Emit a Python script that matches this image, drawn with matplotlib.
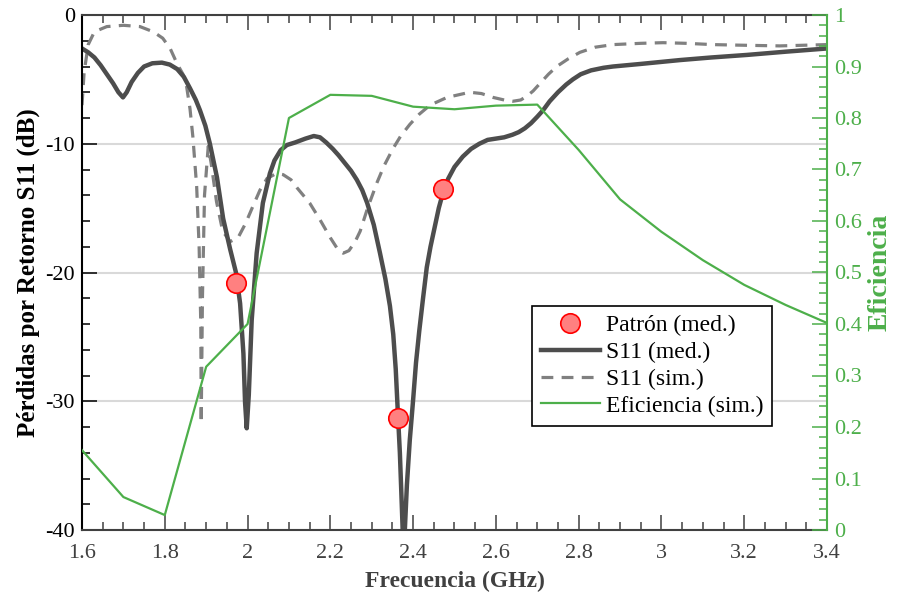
import numpy as np
import matplotlib
matplotlib.use('Agg')
import matplotlib.pyplot as plt
from matplotlib import ticker
from matplotlib.lines import Line2D

plt.rcParams['font.family'] = ['Liberation Serif', 'DejaVu Serif']
plt.rcParams['axes.unicode_minus'] = False

# S11 medido
f_med = [1.600, 1.615, 1.630, 1.645, 1.660, 1.675, 1.688, 1.699, 1.708, 1.720,
         1.735, 1.750, 1.770, 1.793, 1.812, 1.830, 1.846, 1.861, 1.875, 1.885,
         1.898, 1.909, 1.926, 1.941, 1.958, 1.972, 1.982, 1.990, 1.994, 1.998,
         2.003, 2.010, 2.022, 2.037, 2.054, 2.065, 2.080, 2.095, 2.115, 2.140,
         2.160, 2.175, 2.190, 2.206, 2.220, 2.235, 2.250, 2.264, 2.277, 2.289,
         2.305, 2.320, 2.333, 2.344, 2.352, 2.358, 2.363, 2.368, 2.372, 2.377,
         2.380, 2.385, 2.392, 2.400, 2.407, 2.415, 2.424, 2.433, 2.442, 2.452,
         2.462, 2.473, 2.485, 2.500, 2.520, 2.540, 2.560, 2.580, 2.600, 2.620,
         2.640, 2.655, 2.670, 2.685, 2.700, 2.714, 2.730, 2.750, 2.770, 2.786,
         2.805, 2.830, 2.860, 2.883, 2.950, 3.045, 3.120, 3.207, 3.300, 3.400]
s11_med = [-2.6, -2.9, -3.3, -3.9, -4.6, -5.3, -6.0, -6.4, -6.0, -5.2,
           -4.5, -4.0, -3.75, -3.7, -3.85, -4.2, -4.8, -5.7, -6.6, -7.4,
           -8.6, -10.0, -12.6, -15.8, -18.2, -20.0, -22.4, -26.3, -30.1, -32.1,
           -29.5, -23.7, -18.5, -14.6, -12.3, -11.3, -10.5, -10.1, -9.9, -9.6,
           -9.4, -9.5, -9.9, -10.4, -10.9, -11.5, -12.1, -12.8, -13.6, -14.6,
           -16.3, -18.5, -20.5, -22.6, -24.8, -27.5, -30.8, -34.0, -37.5, -42.0,
           -40.0, -36.5, -33.0, -29.9, -27.0, -24.5, -22.0, -19.6, -18.0, -16.5,
           -15.0, -13.7, -12.7, -11.8, -11.0, -10.4, -10.0, -9.7, -9.6, -9.5,
           -9.3, -9.1, -8.8, -8.4, -7.9, -7.4, -6.7, -6.0, -5.4, -5.0,
           -4.6, -4.3, -4.1, -4.0, -3.8, -3.5, -3.3, -3.1, -2.85, -2.6]

# S11 simulado
f_sim = [1.600, 1.605, 1.615, 1.630, 1.660, 1.700, 1.740, 1.772, 1.795, 1.813,
         1.830, 1.844, 1.853, 1.861, 1.868, 1.877, 1.883, 1.887, 1.888, 1.891,
         1.896, 1.905, 1.912, 1.925, 1.940, 1.958, 1.977, 1.995, 2.011, 2.030,
         2.047, 2.070, 2.086, 2.105, 2.119, 2.150, 2.175, 2.200, 2.220, 2.231,
         2.245, 2.260, 2.272, 2.290, 2.313, 2.330, 2.351, 2.370, 2.392, 2.415,
         2.441, 2.482, 2.537, 2.565, 2.593, 2.620, 2.641, 2.660, 2.675, 2.690,
         2.707, 2.727, 2.747, 2.775, 2.803, 2.840, 2.883, 2.950, 3.004, 3.060,
         3.125, 3.200, 3.286, 3.400]
s11_sim = [-7.0, -4.5, -2.3, -1.3, -0.9, -0.8, -0.9, -1.3, -1.8, -2.6,
           -3.8, -4.6, -5.6, -7.3, -9.5, -13.3, -18.0, -24.0, -31.7, -22.0,
           -14.0, -10.2, -11.5, -14.5, -16.8, -17.6, -17.3, -16.2, -15.0, -13.6,
           -12.7, -12.3, -12.4, -12.8, -13.4, -14.6, -15.9, -17.3, -18.3, -18.5,
           -18.3, -17.6, -16.8, -15.0, -13.0, -11.7, -10.4, -9.4, -8.5, -7.7,
           -7.0, -6.4, -6.0, -6.1, -6.4, -6.6, -6.7, -6.6, -6.3, -5.9,
           -5.3, -4.6, -4.0, -3.4, -2.9, -2.5, -2.3, -2.2, -2.15, -2.2,
           -2.3, -2.35, -2.4, -2.3]

# Patrón medido
f_pat = [1.972, 2.363, 2.473]
s11_pat = [-20.8, -31.3, -13.5]

# Eficiencia simulada
f_ef = [1.6, 1.7, 1.8, 1.9, 2.0, 2.1, 2.2, 2.3, 2.4, 2.5, 2.6, 2.7, 2.8, 2.9,
        3.0, 3.1, 3.2, 3.3, 3.4]
ef = [0.155, 0.064, 0.029, 0.317, 0.400, 0.800, 0.845, 0.843, 0.822, 0.817,
      0.824, 0.826, 0.738, 0.642, 0.579, 0.524, 0.476, 0.437, 0.402]

GRIS = '#404040'
VERDE = '#4daf4a'

fig = plt.figure(figsize=(9.01, 5.97), dpi=100)
ax = fig.add_axes([82 / 901, 67 / 597, 745 / 901, 515 / 597])

ax.plot(f_sim, s11_sim, color='#808080', lw=2.3, linestyle=(0, (3.7, 2.6)),
        label='S11 (sim.)')
ax.plot(f_med, s11_med, color='#4d4d4d', lw=3.2, label='S11 (med.)')
ax.plot(f_pat, s11_pat, 'o', ms=14, mfc='#ff8080', mec='red', mew=1.2,
        label='Patrón (med.)', zorder=5)

ax.set_xlim(1.6, 3.4)
ax.set_ylim(-40, 0)
ax.xaxis.set_major_locator(ticker.MultipleLocator(0.2))
ax.xaxis.set_minor_locator(ticker.MultipleLocator(0.05))
ax.yaxis.set_major_locator(ticker.MultipleLocator(10))
ax.yaxis.set_minor_locator(ticker.MultipleLocator(2))
ax.xaxis.set_major_formatter(ticker.FormatStrFormatter('%g'))
ax.yaxis.set_major_formatter(ticker.FormatStrFormatter('%g'))
ax.grid(True, axis='y', which='major', color='#d9d9d9', lw=1.5)
ax.set_axisbelow(True)

ax.tick_params(axis='x', which='both', direction='in', top=True, colors=GRIS,
               labelsize=16, width=1.1, pad=10)
ax.tick_params(axis='x', which='major', length=11)
ax.tick_params(axis='x', which='minor', length=6)
ax.tick_params(axis='y', which='both', direction='in', right=False,
               colors='black', labelsize=16, width=1.1, pad=5)
ax.tick_params(axis='y', which='major', length=11)
ax.tick_params(axis='y', which='minor', length=6)
for s in ['top', 'bottom']:
    ax.spines[s].set_color(GRIS)
    ax.spines[s].set_linewidth(1.5)
ax.spines['left'].set_color('black')
ax.spines['left'].set_linewidth(1.5)
ax.spines['right'].set_visible(False)

ax.set_xlabel('Frecuencia (GHz)', fontsize=17, fontweight='bold', color=GRIS,
              labelpad=6)
ax.set_ylabel('Pérdidas por Retorno S11 (dB)', fontsize=18, fontweight='bold',
              color='black', labelpad=4)

ax2 = ax.twinx()
ax2.plot(f_ef, ef, color=VERDE, lw=1.6, label='Eficiencia (sim.)')
ax2.set_ylim(0, 1)
ax2.yaxis.set_major_locator(ticker.MultipleLocator(0.1))
ax2.yaxis.set_minor_locator(ticker.MultipleLocator(0.02))
ax2.yaxis.set_major_formatter(ticker.FormatStrFormatter('%g'))
ax2.tick_params(axis='y', which='both', direction='in', colors=VERDE,
                labelsize=16, width=1.1, pad=5)
ax2.tick_params(axis='y', which='major', length=11)
ax2.tick_params(axis='y', which='minor', length=6)
for s in ['top', 'bottom', 'left']:
    ax2.spines[s].set_visible(False)
ax2.spines['right'].set_color(VERDE)
ax2.spines['right'].set_linewidth(1.5)
ax2.set_ylabel('Eficiencia', fontsize=20, fontweight='bold', color=VERDE,
               labelpad=4)

handles = [
    Line2D([], [], marker='o', ls='none', ms=14, mfc='#ff8080', mec='red', mew=1.2),
    Line2D([], [], color='#4d4d4d', lw=3.2),
    Line2D([], [], color='#808080', lw=2.3, linestyle=(0, (3.7, 2.6))),
    Line2D([], [], color=VERDE, lw=1.6),
]
labels = ['Patrón (med.)', 'S11 (med.)', 'S11 (sim.)', 'Eficiencia (sim.)']
leg = ax2.legend(handles, labels, loc='upper left', bbox_to_anchor=(0.604, 0.435),
                 borderaxespad=0, fontsize=17, handlelength=2.5, labelspacing=0.22,
                 borderpad=0.38, handletextpad=0.25, fancybox=False, framealpha=1)
leg.get_frame().set_edgecolor('black')
leg.get_frame().set_linewidth(1.2)

fig.savefig('out.png', dpi=100)
